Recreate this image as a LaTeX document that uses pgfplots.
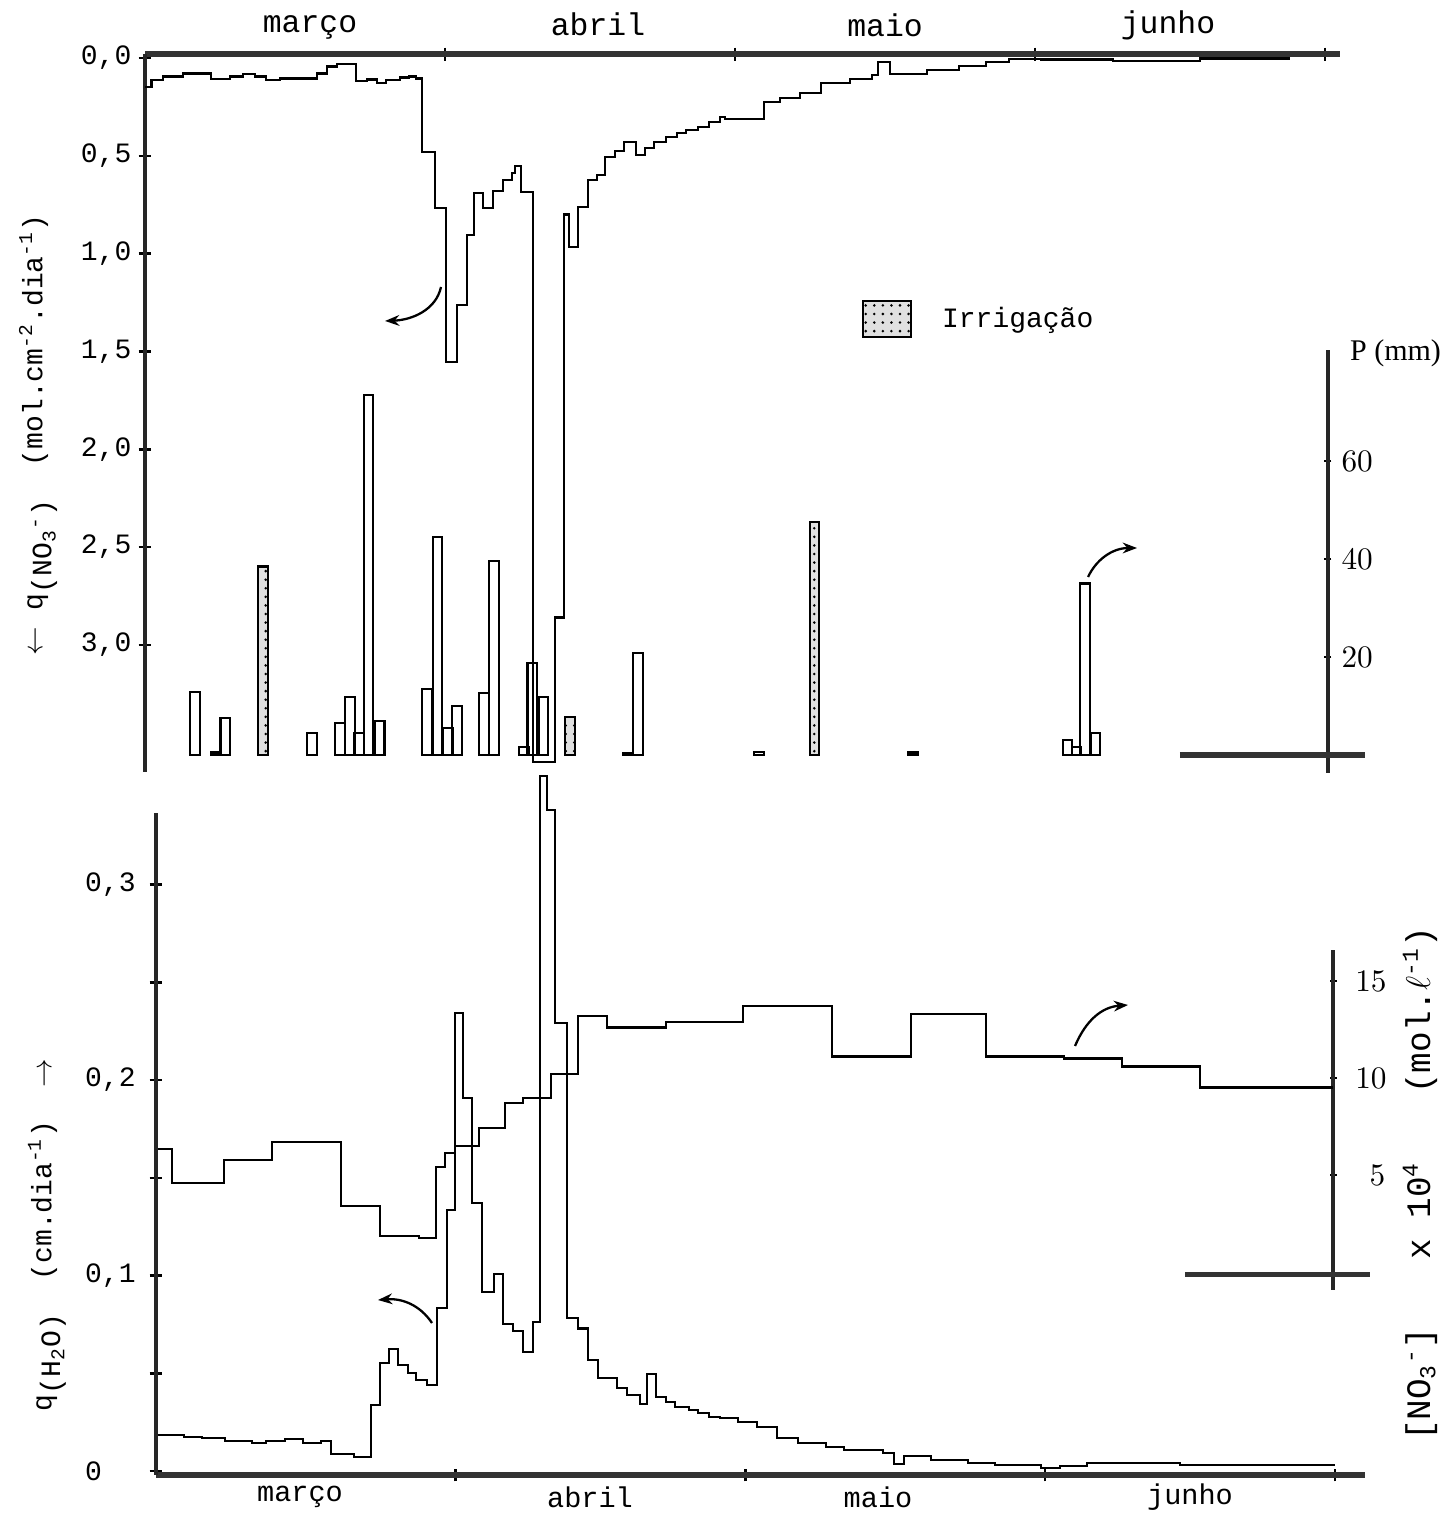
\documentclass[border=0pt]{standalone}
\usepackage{pgfplots}
\pgfplotsset{compat=1.18}
\usepackage{fontspec}
\setmainfont{Liberation Mono}
\newfontfamily\seriffont{Liberation Serif}
\usetikzlibrary{patterns,arrows.meta}

\pgfplotsset{
  base/.style={
    scale only axis,
    anchor=south west,
    clip=false,
    tick align=outside,
    major tick length=2.5pt,
    tick style={black, line width=0.9pt},
    every tick label/.append style={font=\fontsize{9.8}{10}\selectfont},
  },
  stepline/.style={const plot, black, line width=0.85pt, mark=none},
}

\begin{document}
\begin{tikzpicture}
\useasboundingbox (0,0) rectangle (504pt,529.9pt);

% ---------- top panel: q(NO3-) flux (reversed axis) ----------
\begin{axis}[base,
  at={(50.75pt,259.7pt)}, width=418.07pt, height=251.25pt,
  xmin=0, xmax=123.5, ymin=-0.02, ymax=3.65, y dir=reverse,
  axis x line=top, axis y line=left,
  tick align=center, major tick length=4.5pt,
  x axis line style={line width=2.2pt, black!80, -},
  y axis line style={line width=1.7pt, black!85, -},
  xtick={31,61,92,122}, xticklabels={,,,},
  ytick={0,0.5,1,1.5,2,2.5,3},
  yticklabels={{0,0},{0,5},{1,0},{1,5},{2,0},{2,5},{3,0}},
  yticklabel style={xshift=1pt},
]
\addplot[stepline] coordinates {
(0,0.147)(0.67,0.112)(1.86,0.095)(3.93,0.078)(6.82,0.107)(8.79,0.095)
(10.13,0.082)(11.37,0.095)(12.51,0.112)(13.96,0.104)(17.78,0.078)(18.82,0.044)
(19.85,0.031)(21.82,0.118)(22.95,0.109)(23.99,0.129)(24.92,0.112)(26.36,0.099)
(27.30,0.095)(28.02,0.104)(28.64,0.479)(29.98,0.768)(31.12,1.554)(32.26,1.263)
(33.29,0.905)(34.02,0.690)(34.95,0.767)(35.98,0.680)(37.01,0.624)(37.94,0.588)
(38.25,0.552)(38.88,0.685)(40.12,3.60)(42.39,2.86)(43.32,0.800)(43.84,0.966)
(44.77,0.762)(45.80,0.624)(46.73,0.598)(47.56,0.506)(48.59,0.475)(49.52,0.429)
(50.76,0.496)(51.69,0.460)(52.63,0.429)(53.87,0.404)(55.00,0.383)(55.93,0.368)
(57.18,0.353)(58.31,0.327)(59.45,0.300)(59.97,0.313)(64.00,0.225)(65.65,0.205)
(67.72,0.180)(69.89,0.128)(72.89,0.107)(75.17,0.087)(75.79,0.020)(77.03,0.082)
(80.85,0.061)(84.16,0.040)(86.95,0.020)(89.33,0.005)(92.64,0.007)(100.08,0.014)
(109.08,0.003)(118.38,0.003)
};
\end{axis}

% ---------- top panel: precipitation P (mm) ----------
\begin{axis}[base,
  at={(50.75pt,259.35pt)}, width=414.0pt, height=148.04pt,
  xmin=0, xmax=122.3, ymin=-3.67, ymax=82.65,
  axis x line=none, axis y line=right,
  y axis line style={line width=1.5pt, black!85, -},
  ytick={20,40,60},
  yticklabel style={font=\seriffont\fontsize{10.5}{11}\selectfont},
]
\addplot[ybar, bar width=1, bar shift=0pt, draw=black, fill=none, line width=0.8pt] coordinates {
(5.17,12.9)(7.34,0.5)(8.32,7.6)(17.27,4.5)(20.16,6.5)(21.20,11.9)(22.13,4.5)
(23.11,73.5)(24.25,7.0)(29.16,13.5)(30.24,44.5)(31.28,5.5)(32.26,10.0)
(35.05,12.6)(36.08,39.6)(39.19,1.6)(40.06,18.8)(41.20,11.8)(49.94,0.4)
(50.97,20.8)(63.48,0.6)(79.45,0.5)(95.38,3.0)(96.31,1.6)(97.19,35.0)(98.27,4.5)
};
\addplot[ybar, bar width=1, bar shift=0pt, draw=black, line width=0.8pt,
  fill=black!12, postaction={pattern=dots}] coordinates {
(12.20,38.5)(43.94,7.8)(69.22,47.5)
};
\draw[line width=1.8pt, black!80] (axis cs:107,0) -- (axis cs:126.1,0);
\end{axis}

% ---------- bottom panel: q(H2O) ----------
\begin{axis}[base,
  at={(54.6pt,13.65pt)}, width=423.14pt, height=231.7pt,
  xmin=0, xmax=125.1, ymin=-0.002, ymax=0.3366,
  axis x line=bottom, axis y line=left,
  tick align=center, major tick length=4.5pt, minor tick length=4.5pt,
  x axis line style={line width=2.2pt, black!80, -},
  y axis line style={line width=1.7pt, black!85, -},
  xtick={31,61,92,122}, xticklabels={,,,},
  ytick={0,0.1,0.2,0.3}, yticklabels={0,{0,1},{0,2},{0,3}},
  minor ytick={0.05,0.15,0.25},
  yticklabel style={text width=1.8em, align=left, xshift=-1pt},
]
\addplot[stepline] coordinates {
(0.2,0.0184)(2.90,0.0175)(4.76,0.0169)(7.14,0.0155)(9.93,0.0143)(11.38,0.0155)
(13.35,0.0164)(15.21,0.0145)(17.07,0.0155)(18.11,0.0087)(20.49,0.0073)(22.25,0.0338)
(23.18,0.0552)(24.11,0.0624)(25.04,0.0542)(26.08,0.0501)(26.90,0.0465)(28.04,0.0440)
(29.08,0.0834)(30.11,0.1335)(30.94,0.2343)(31.77,0.1908)(32.70,0.1371)(33.73,0.0916)
(34.98,0.1008)(35.91,0.0752)(36.94,0.0716)(37.98,0.0609)(39.01,0.0762)(39.74,0.3555)
(40.46,0.3381)(41.29,0.2292)(42.53,0.0783)(43.67,0.0730)(44.70,0.0568)(45.74,0.0476)
(47.70,0.0425)(48.74,0.0389)(50.08,0.0343)(50.81,0.0496)(51.74,0.0379)(52.77,0.0353)
(53.71,0.0327)(55.15,0.0312)(56.08,0.0297)(57.22,0.0276)(58.36,0.0271)(60.22,0.0251)
(62.19,0.0225)(64.26,0.0169)(66.43,0.0143)(69.33,0.0123)(71.19,0.0107)(75.23,0.0092)
(76.37,0.0036)(77.40,0.0077)(80.19,0.0056)(84.02,0.0041)(86.82,0.0031)(91.58,0.0015)
(93.54,0.0026)(96.34,0.0041)(105.96,0.0031)(122.0,0.0031)
};
\end{axis}

% ---------- bottom panel: [NO3-] concentration ----------
\begin{axis}[base,
  at={(54.6pt,78.4pt)}, width=411.98pt, height=119pt,
  xmin=0, xmax=121.8, ymin=-0.93, ymax=16.6,
  axis x line=none, axis y line=right,
  y axis line style={line width=1.5pt, black!85, -},
  ytick={5,10,15},
  yticklabel style={font=\seriffont\fontsize{10.5}{11}\selectfont, text width=10.5pt, align=right, xshift=3pt},
]
\addplot[stepline] coordinates {
(0.2,6.34)(1.66,4.59)(7.04,5.77)(12.00,6.70)(19.14,3.40)(23.18,1.86)(27.21,1.75)
(28.97,5.41)(29.90,6.13)(30.94,6.49)(33.42,7.42)(36.11,8.71)(37.98,8.97)(40.87,10.2)
(43.67,13.2)(46.67,12.6)(52.77,12.9)(60.74,13.7)(69.95,11.1)(78.13,13.3)(85.89,11.1)
(93.96,11.0)(99.96,10.6)(108.03,9.5)(121.79,9.5)
};
\draw[line width=1.8pt, black!80] (axis cs:106.5,-0.15) -- (axis cs:125.6,-0.15);
\end{axis}

% ---------- annotations (pixel-like coordinates, y downward) ----------
\begin{scope}[shift={(0pt,529.9pt)}, x=0.35pt, y=-0.35pt]
  \node[font=\fontsize{11}{12}\selectfont] at (310,27) {março};
  \node[font=\fontsize{11}{12}\selectfont] at (598,24) {abril};
  \node[font=\fontsize{11}{12}\selectfont] at (885,25) {maio};
  \node[font=\fontsize{11}{12}\selectfont] at (1168,25) {junho};
  \node[font=\fontsize{10}{11}\selectfont] at (300,1497) {março};
  \node[font=\fontsize{10}{11}\selectfont] at (590,1497) {abril};
  \node[font=\fontsize{10}{11}\selectfont] at (878,1497) {maio};
  \node[font=\fontsize{10}{11}\selectfont] at (1190,1497) {junho};

  \node[rotate=90, font=\fontsize{9.8}{11}\selectfont] at (38,435)
    {$\leftarrow$ q\raisebox{-0.6ex}{(NO\textsubscript{3}\textsuperscript{-})}\ \ (mol.cm\textsuperscript{-2}.dia\textsuperscript{-1})};
  \node[rotate=90, font=\fontsize{9.8}{11}\selectfont] at (47,1235)
    {q\raisebox{-0.6ex}{(H\textsubscript{2}O)}\ \ (cm.dia\textsuperscript{-1})\ \ $\rightarrow$};
  \node[rotate=90, font=\fontsize{12}{13}\selectfont] at (1420,1184)
    {[NO\textsubscript{3}\textsuperscript{-}]\hspace{2em}x 10\textsuperscript{4}\hspace{2em}(mol.$\ell$\textsuperscript{-1})};

  \node[anchor=west, font=\seriffont\fontsize{10.5}{11}\selectfont] at (1340,353) {P (mm)};

  \draw[line width=0.8pt, fill=black!12, postaction={pattern=dots}] (863,301) rectangle (911,337);
  \node[anchor=west, font=\fontsize{9.8}{11}\selectfont] at (932,320) {Irrigação};

  \draw[line width=0.8pt, -{Stealth[length=5pt]}] (441,287) .. controls (436,310) and (412,320) .. (385,321);
  \draw[line width=0.8pt, -{Stealth[length=5pt]}] (1088,577) .. controls (1096,560) and (1112,548) .. (1137,548);
  \draw[line width=0.8pt, -{Stealth[length=5pt]}] (432,1323) .. controls (420,1305) and (402,1298) .. (378,1300);
  \draw[line width=0.8pt, -{Stealth[length=5pt]}] (1075,1046) .. controls (1086,1020) and (1102,1007) .. (1128,1005);
\end{scope}
\end{tikzpicture}
\end{document}
